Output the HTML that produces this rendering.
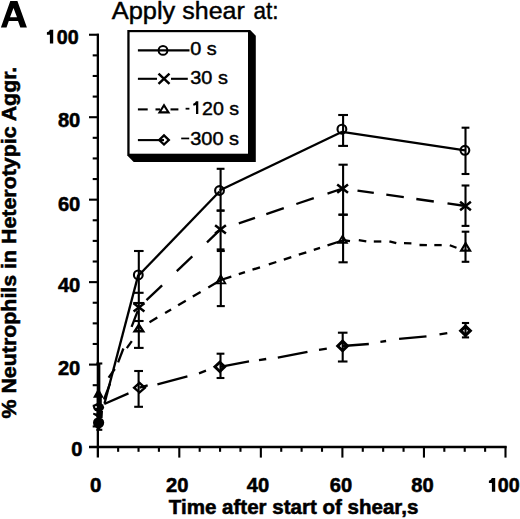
<!DOCTYPE html>
<html><head><meta charset="utf-8"><style>
html,body{margin:0;padding:0;background:#fff;}
body{width:520px;height:519px;overflow:hidden;font-family:"Liberation Sans",sans-serif;}
svg{display:block;}
</style></head><body>
<svg width="520" height="519" viewBox="0 0 520 519">
<g stroke="#000" stroke-width="2.3" fill="none">
<line x1="97.85" y1="33.7" x2="97.85" y2="457.6"/>
<line x1="89.0" y1="447.0" x2="506.6" y2="447.0"/>
</g><g stroke="#000" stroke-width="2.1" fill="none">
<line x1="92.7" y1="426.44" x2="98.8" y2="426.44"/>
<line x1="92.7" y1="405.82" x2="98.8" y2="405.82"/>
<line x1="92.7" y1="385.20" x2="98.8" y2="385.20"/>
<line x1="89.0" y1="364.59" x2="98.8" y2="364.59"/>
<line x1="92.7" y1="343.98" x2="98.8" y2="343.98"/>
<line x1="92.7" y1="323.36" x2="98.8" y2="323.36"/>
<line x1="92.7" y1="302.75" x2="98.8" y2="302.75"/>
<line x1="89.0" y1="282.13" x2="98.8" y2="282.13"/>
<line x1="92.7" y1="261.51" x2="98.8" y2="261.51"/>
<line x1="92.7" y1="240.90" x2="98.8" y2="240.90"/>
<line x1="92.7" y1="220.28" x2="98.8" y2="220.28"/>
<line x1="89.0" y1="199.67" x2="98.8" y2="199.67"/>
<line x1="92.7" y1="179.06" x2="98.8" y2="179.06"/>
<line x1="92.7" y1="158.44" x2="98.8" y2="158.44"/>
<line x1="92.7" y1="137.82" x2="98.8" y2="137.82"/>
<line x1="89.0" y1="117.21" x2="98.8" y2="117.21"/>
<line x1="92.7" y1="96.59" x2="98.8" y2="96.59"/>
<line x1="92.7" y1="75.98" x2="98.8" y2="75.98"/>
<line x1="92.7" y1="55.37" x2="98.8" y2="55.37"/>
<line x1="89.0" y1="34.75" x2="98.8" y2="34.75"/>
<line x1="118.14" y1="446.2" x2="118.14" y2="451.8"/>
<line x1="138.53" y1="446.2" x2="138.53" y2="451.8"/>
<line x1="158.91" y1="446.2" x2="158.91" y2="451.8"/>
<line x1="179.30" y1="446.2" x2="179.30" y2="457.6"/>
<line x1="199.69" y1="446.2" x2="199.69" y2="451.8"/>
<line x1="220.07" y1="446.2" x2="220.07" y2="451.8"/>
<line x1="240.46" y1="446.2" x2="240.46" y2="451.8"/>
<line x1="260.85" y1="446.2" x2="260.85" y2="457.6"/>
<line x1="281.24" y1="446.2" x2="281.24" y2="451.8"/>
<line x1="301.62" y1="446.2" x2="301.62" y2="451.8"/>
<line x1="322.01" y1="446.2" x2="322.01" y2="451.8"/>
<line x1="342.40" y1="446.2" x2="342.40" y2="457.6"/>
<line x1="362.79" y1="446.2" x2="362.79" y2="451.8"/>
<line x1="383.17" y1="446.2" x2="383.17" y2="451.8"/>
<line x1="403.56" y1="446.2" x2="403.56" y2="451.8"/>
<line x1="423.95" y1="446.2" x2="423.95" y2="457.6"/>
<line x1="444.34" y1="446.2" x2="444.34" y2="451.8"/>
<line x1="464.72" y1="446.2" x2="464.72" y2="451.8"/>
<line x1="485.11" y1="446.2" x2="485.11" y2="451.8"/>
<line x1="505.50" y1="446.2" x2="505.50" y2="457.6"/>
</g>
<line x1="104.5" y1="403.5" x2="138.3" y2="274.9" stroke="#000" stroke-width="2.3"/>
<line x1="138.3" y1="275.8" x2="219.5" y2="191.5" stroke="#000" stroke-width="2.3"/>
<line x1="219.5" y1="190.5" x2="342.2" y2="131.8" stroke="#000" stroke-width="2.3"/>
<line x1="342.2" y1="131.8" x2="465.0" y2="150.3" stroke="#000" stroke-width="2.3"/>
<line x1="104.0" y1="399.5" x2="110.0" y2="383.7" stroke="#000" stroke-width="2.3"/>
<line x1="118.1" y1="362.4" x2="123.4" y2="348.5" stroke="#000" stroke-width="2.3"/>
<line x1="131.6" y1="326.9" x2="137.8" y2="310.6" stroke="#000" stroke-width="2.3"/>
<line x1="146.5" y1="300.2" x2="162.1" y2="285.3" stroke="#000" stroke-width="2.3"/>
<line x1="176.8" y1="271.2" x2="192.3" y2="256.4" stroke="#000" stroke-width="2.3"/>
<line x1="207.0" y1="242.3" x2="220.5" y2="229.4" stroke="#000" stroke-width="2.3"/>
<line x1="238.8" y1="223.3" x2="255.0" y2="217.8" stroke="#000" stroke-width="2.3"/>
<line x1="266.3" y1="214.1" x2="283.8" y2="208.2" stroke="#000" stroke-width="2.3"/>
<line x1="296.3" y1="204.0" x2="313.8" y2="198.1" stroke="#000" stroke-width="2.3"/>
<line x1="327.5" y1="193.6" x2="342.6" y2="188.5" stroke="#000" stroke-width="2.3"/>
<line x1="357.5" y1="190.6" x2="373.8" y2="192.9" stroke="#000" stroke-width="2.3"/>
<line x1="386.3" y1="194.7" x2="403.8" y2="197.2" stroke="#000" stroke-width="2.3"/>
<line x1="416.3" y1="199.0" x2="433.8" y2="201.5" stroke="#000" stroke-width="2.3"/>
<line x1="447.5" y1="203.4" x2="465.5" y2="206.0" stroke="#000" stroke-width="2.3"/>
<line x1="108.6" y1="377.6" x2="114.8" y2="369.0" stroke="#000" stroke-width="2.3"/>
<line x1="126.8" y1="348.2" x2="131.8" y2="341.2" stroke="#000" stroke-width="2.3"/>
<line x1="149.5" y1="322.3" x2="157.3" y2="317.6" stroke="#000" stroke-width="2.3"/>
<line x1="165.1" y1="313.0" x2="171.1" y2="309.5" stroke="#000" stroke-width="2.3"/>
<line x1="178.1" y1="305.3" x2="185.8" y2="300.8" stroke="#000" stroke-width="2.3"/>
<line x1="192.8" y1="296.6" x2="200.6" y2="292.0" stroke="#000" stroke-width="2.3"/>
<line x1="208.3" y1="287.4" x2="220.8" y2="280.0" stroke="#000" stroke-width="2.3"/>
<line x1="220.8" y1="280.0" x2="231.3" y2="276.6" stroke="#000" stroke-width="2.3"/>
<line x1="238.8" y1="274.2" x2="245.0" y2="272.2" stroke="#000" stroke-width="2.3"/>
<line x1="252.5" y1="269.7" x2="260.0" y2="267.3" stroke="#000" stroke-width="2.3"/>
<line x1="268.8" y1="264.4" x2="276.3" y2="262.0" stroke="#000" stroke-width="2.3"/>
<line x1="283.8" y1="259.6" x2="291.3" y2="257.1" stroke="#000" stroke-width="2.3"/>
<line x1="298.8" y1="254.7" x2="306.3" y2="252.3" stroke="#000" stroke-width="2.3"/>
<line x1="313.8" y1="249.8" x2="320.0" y2="247.8" stroke="#000" stroke-width="2.3"/>
<line x1="327.5" y1="245.4" x2="342.6" y2="240.5" stroke="#000" stroke-width="2.3"/>
<line x1="342.6" y1="240.0" x2="350.0" y2="241.2" stroke="#000" stroke-width="2.3"/>
<line x1="358.8" y1="240.2" x2="366.3" y2="241.3" stroke="#000" stroke-width="2.3"/>
<line x1="373.8" y1="241.5" x2="381.3" y2="241.5" stroke="#000" stroke-width="2.3"/>
<line x1="389.4" y1="241.3" x2="396.3" y2="243.2" stroke="#000" stroke-width="2.3"/>
<line x1="404.0" y1="243.2" x2="411.4" y2="243.4" stroke="#000" stroke-width="2.3"/>
<line x1="419.5" y1="245.0" x2="426.9" y2="245.1" stroke="#000" stroke-width="2.3"/>
<line x1="434.3" y1="245.1" x2="441.7" y2="245.1" stroke="#000" stroke-width="2.3"/>
<line x1="449.8" y1="245.2" x2="456.5" y2="247.8" stroke="#000" stroke-width="2.3"/>
<line x1="104.3" y1="404.0" x2="128.5" y2="393.4" stroke="#000" stroke-width="2.3"/>
<line x1="139.5" y1="387.7" x2="147.7" y2="385.4" stroke="#000" stroke-width="2.3"/>
<line x1="157.4" y1="384.3" x2="187.4" y2="376.4" stroke="#000" stroke-width="2.3"/>
<line x1="199.0" y1="373.3" x2="206.0" y2="370.7" stroke="#000" stroke-width="2.3"/>
<line x1="220.1" y1="366.8" x2="249.0" y2="361.3" stroke="#000" stroke-width="2.3"/>
<line x1="259.0" y1="360.2" x2="266.2" y2="359.0" stroke="#000" stroke-width="2.3"/>
<line x1="277.8" y1="357.6" x2="307.5" y2="351.8" stroke="#000" stroke-width="2.3"/>
<line x1="319.0" y1="349.8" x2="326.8" y2="348.6" stroke="#000" stroke-width="2.3"/>
<line x1="342.7" y1="346.0" x2="368.8" y2="344.0" stroke="#000" stroke-width="2.3"/>
<line x1="380.4" y1="341.9" x2="386.1" y2="341.0" stroke="#000" stroke-width="2.3"/>
<line x1="399.1" y1="338.8" x2="426.5" y2="336.3" stroke="#000" stroke-width="2.3"/>
<line x1="439.5" y1="334.3" x2="447.3" y2="333.1" stroke="#000" stroke-width="2.3"/>
<g stroke="#000" stroke-width="2.1" fill="none">
<line x1="138.8" y1="251" x2="138.8" y2="292.8"/>
<line x1="134.0" y1="251" x2="143.6" y2="251"/>
<line x1="134.0" y1="292.8" x2="143.6" y2="292.8"/>
<line x1="220.6" y1="168.8" x2="220.6" y2="210.6"/>
<line x1="216.7" y1="168.8" x2="224.5" y2="168.8"/>
<line x1="216.7" y1="210.6" x2="224.5" y2="210.6"/>
<line x1="343.1" y1="115" x2="343.1" y2="145.9"/>
<line x1="338.2" y1="115" x2="348.0" y2="115"/>
<line x1="338.2" y1="145.9" x2="348.0" y2="145.9"/>
<line x1="465.5" y1="127.7" x2="465.5" y2="174"/>
<line x1="461.6" y1="127.7" x2="469.4" y2="127.7"/>
<line x1="461.6" y1="174" x2="469.4" y2="174"/>
<line x1="220.6" y1="210.6" x2="220.6" y2="249.4"/>
<line x1="216.7" y1="210.6" x2="224.5" y2="210.6"/>
<line x1="216.7" y1="249.4" x2="224.5" y2="249.4"/>
<line x1="343.1" y1="164.7" x2="343.1" y2="214.7"/>
<line x1="338.5" y1="164.7" x2="347.7" y2="164.7"/>
<line x1="338.5" y1="214.7" x2="347.7" y2="214.7"/>
<line x1="465.5" y1="185.5" x2="465.5" y2="225.9"/>
<line x1="461.6" y1="185.5" x2="469.4" y2="185.5"/>
<line x1="461.6" y1="225.9" x2="469.4" y2="225.9"/>
<line x1="138.8" y1="321.0" x2="138.8" y2="347.9"/>
<line x1="134.0" y1="321.0" x2="143.6" y2="321.0"/>
<line x1="134.0" y1="347.9" x2="143.6" y2="347.9"/>
<line x1="220.8" y1="251" x2="220.8" y2="306.1"/>
<line x1="216.8" y1="251" x2="224.8" y2="251"/>
<line x1="216.8" y1="306.1" x2="224.8" y2="306.1"/>
<line x1="343.1" y1="214.7" x2="343.1" y2="262.3"/>
<line x1="338.5" y1="214.7" x2="347.7" y2="214.7"/>
<line x1="338.5" y1="262.3" x2="347.7" y2="262.3"/>
<line x1="465.5" y1="231.7" x2="465.5" y2="261.8"/>
<line x1="461.7" y1="231.7" x2="469.3" y2="231.7"/>
<line x1="461.7" y1="261.8" x2="469.3" y2="261.8"/>
<line x1="138.6" y1="371" x2="138.6" y2="406.8"/>
<line x1="134.2" y1="371" x2="143.0" y2="371"/>
<line x1="134.2" y1="406.8" x2="143.0" y2="406.8"/>
<line x1="220.5" y1="353.7" x2="220.5" y2="378"/>
<line x1="216.6" y1="353.7" x2="224.4" y2="353.7"/>
<line x1="216.6" y1="378" x2="224.4" y2="378"/>
<line x1="342.7" y1="332.7" x2="342.7" y2="361.5"/>
<line x1="337.9" y1="332.7" x2="347.5" y2="332.7"/>
<line x1="337.9" y1="361.5" x2="347.5" y2="361.5"/>
<line x1="465.5" y1="323" x2="465.5" y2="337.4"/>
<line x1="461.9" y1="323" x2="469.1" y2="323"/>
<line x1="461.9" y1="337.4" x2="469.1" y2="337.4"/>
<line x1="99.3" y1="363.5" x2="99.3" y2="429.8"/>
<line x1="96.3" y1="363.5" x2="102.3" y2="363.5"/>
<line x1="96.3" y1="429.8" x2="102.3" y2="429.8"/>
<line x1="133.2" y1="303" x2="144.4" y2="303"/>
<line x1="138.8" y1="292.8" x2="138.8" y2="321"/>
</g>
<path d="M139.50,381.30L146.70,387.70L139.50,394.10L132.30,387.70ZM135.91,387.70L139.50,390.89L143.09,387.70L139.50,384.51Z" fill="#000" fill-rule="evenodd"/>
<path d="M219.80,360.15L226.80,366.85L219.80,373.55L212.80,366.85ZM216.99,366.85L219.80,369.54L222.61,366.85L219.80,364.16Z" fill="#000" fill-rule="evenodd"/>
<path d="M342.60,339.10L349.60,345.90L342.60,352.70L335.60,345.90ZM339.76,345.90L342.60,348.66L345.44,345.90L342.60,343.14Z" fill="#000" fill-rule="evenodd"/>
<path d="M465.50,324.10L472.50,330.80L465.50,337.50L458.50,330.80ZM462.98,330.80L465.50,333.21L468.02,330.80L465.50,328.39Z" fill="#000" fill-rule="evenodd"/>
<path d="M138.90,322.50L145.40,332.40L132.40,332.40ZM137.03,329.90L140.77,329.90L138.90,327.06Z" fill="#000" fill-rule="evenodd"/>
<path d="M220.80,273.50L226.80,284.30L214.80,284.30ZM217.86,282.50L223.74,282.50L220.80,277.21Z" fill="#000" fill-rule="evenodd"/>
<path d="M342.60,234.10L348.50,243.80L336.70,243.80ZM339.81,242.05L345.39,242.05L342.60,237.47Z" fill="#000" fill-rule="evenodd"/>
<path d="M465.60,240.90L472.00,251.80L459.20,251.80ZM463.04,249.60L468.16,249.60L465.60,245.25Z" fill="#000" fill-rule="evenodd"/>
<path d="M133.6,303.2L144.4,311.6M133.6,311.6L144.4,303.2" stroke="#000" stroke-width="2.5" fill="none"/>
<path d="M215.1,225.2L225.9,233.6M215.1,233.6L225.9,225.2" stroke="#000" stroke-width="2.5" fill="none"/>
<path d="M337.2,184.4L348.0,192.8M337.2,192.8L348.0,184.4" stroke="#000" stroke-width="2.5" fill="none"/>
<path d="M460.1,201.8L470.9,210.2M460.1,210.2L470.9,201.8" stroke="#000" stroke-width="2.5" fill="none"/>
<circle cx="138.3" cy="274.9" r="4.4" fill="none" stroke="#000" stroke-width="2.1"/>
<circle cx="219.5" cy="190.5" r="4.4" fill="none" stroke="#000" stroke-width="2.1"/>
<circle cx="341.9" cy="129.2" r="4.4" fill="none" stroke="#000" stroke-width="2.1"/>
<circle cx="464.9" cy="150.3" r="4.4" fill="none" stroke="#000" stroke-width="2.1"/>
<path d="M98.40,387.90L103.80,397.80L93.00,397.80ZM97.38,395.20L99.42,395.20L98.40,393.33Z" fill="#000" fill-rule="evenodd"/>
<rect x="96.8" y="397" width="5.0" height="7" fill="#000"/>
<ellipse cx="98.6" cy="407.3" rx="5.5" ry="4.4" fill="#000"/>
<circle cx="96.0" cy="407.0" r="0.9" fill="#fff"/>
<path d="M96.8,411 L103.0,411 L102.6,418 L97.0,418 L96.0,416.2 L93.0,414.6 L93.4,412.8 L96.4,413.6 Z" fill="#000"/>
<ellipse cx="98.6" cy="422.8" rx="5.6" ry="5.6" fill="#000"/>
<path d="M127.3,30 L250.2,30 L255.8,35.8 L255.8,161.9 L133.7,161.9 L127.3,155.4 Z" fill="#000"/>
<rect x="129.6" y="32.2" width="118.4" height="121.5" fill="#fff"/>
<line x1="137.9" y1="50.4" x2="189.5" y2="50.4" stroke="#000" stroke-width="2.1"/>
<line x1="137.9" y1="78.8" x2="157.0" y2="78.8" stroke="#000" stroke-width="2.1"/>
<line x1="171.0" y1="78.8" x2="187.8" y2="78.8" stroke="#000" stroke-width="2.1"/>
<line x1="137.9" y1="109.4" x2="147.7" y2="109.4" stroke="#000" stroke-width="2.1"/>
<line x1="155.5" y1="109.4" x2="160.0" y2="109.4" stroke="#000" stroke-width="2.1"/>
<line x1="170.5" y1="109.4" x2="178.4" y2="109.4" stroke="#000" stroke-width="2.1"/>
<line x1="137.9" y1="140.1" x2="164.0" y2="140.1" stroke="#000" stroke-width="2.1"/>
<circle cx="163" cy="50.4" r="4.4" fill="none" stroke="#000" stroke-width="2.0"/>
<path d="M158.5,73.7L169.5,83.9M158.5,83.9L169.5,73.7" stroke="#000" stroke-width="2.5" fill="none"/>
<path d="M164.00,103.30L170.40,113.40L157.60,113.40ZM161.42,111.30L166.58,111.30L164.00,107.22Z" fill="#000" fill-rule="evenodd"/>
<path d="M164.00,133.70L170.50,139.90L164.00,146.10L157.50,139.90ZM160.83,139.90L164.00,142.92L167.17,139.90L164.00,136.88Z" fill="#000" fill-rule="evenodd"/>
<g font-family="&quot;Liberation Sans&quot;, sans-serif" fill="#000"><path d="M0.9,27.6 L10.3,0.9 L17.4,0.9 L26.9,27.6 L20.3,27.6 L18.0,21.1 L8.8,21.1 L6.5,27.6 Z M13.5,7.9 L17.0,17.3 L10.0,17.3 Z" fill="#000" fill-rule="evenodd"/>
<text x="111.8" y="18.7" font-size="24.6" font-weight="normal" text-anchor="start" textLength="63.5" lengthAdjust="spacingAndGlyphs"  stroke="#000" stroke-width="0.45">Apply</text>
<text x="182.3" y="18.7" font-size="24.6" font-weight="normal" text-anchor="start" textLength="62.5" lengthAdjust="spacingAndGlyphs"  stroke="#000" stroke-width="0.45">shear</text>
<text x="253.6" y="18.7" font-size="24.6" font-weight="normal" text-anchor="start" textLength="25.0" lengthAdjust="spacingAndGlyphs"  stroke="#000" stroke-width="0.45">at:</text>
<text x="190.3" y="55.4" font-size="18.6" font-weight="normal" text-anchor="start" textLength="26.5" lengthAdjust="spacingAndGlyphs"  stroke="#000" stroke-width="0.45">0 s</text>
<text x="190.3" y="84" font-size="18.6" font-weight="normal" text-anchor="start" textLength="37.6" lengthAdjust="spacingAndGlyphs"  stroke="#000" stroke-width="0.45">30 s</text>
<text x="202.0" y="114.6" font-size="18.6" font-weight="normal" text-anchor="start" textLength="37.0" lengthAdjust="spacingAndGlyphs"  stroke="#000" stroke-width="0.45">20 s</text>
<rect x="185.6" y="107.8" width="3.8" height="1.8" fill="#000"/>
<path d="M196.0,101.3 L198.3,101.3 L198.3,113.9 L196.0,113.9 L196.0,104.9 Q194.9,105.5 193.2,105.6 L193.2,103.7 Q195.4,103.3 196.0,101.3 Z" fill="#000"/>
<text x="190.2" y="145.2" font-size="18.6" font-weight="normal" text-anchor="start" textLength="48.9" lengthAdjust="spacingAndGlyphs"  stroke="#000" stroke-width="0.45">300 s</text>
<rect x="181.2" y="137.6" width="8.0" height="1.7" fill="#000"/>
<path d="M49.90,29.70 L53.20,29.70 L53.20,43.60 L49.90,43.60 L49.90,34.70 L46.90,34.70 L46.90,32.30 Q49.30,32.10 49.90,29.70 Z" fill="#000"/>
<path d="M491.90,478.10 L495.20,478.10 L495.20,491.80 L491.90,491.80 L491.90,483.10 L488.90,483.10 L488.90,480.70 Q491.30,480.50 491.90,478.10 Z" fill="#000"/>
<text x="56.8" y="43.6" font-size="20" font-weight="bold" text-anchor="start" textLength="21.85" lengthAdjust="spacingAndGlyphs"  stroke="#000" stroke-width="0.55">00</text>
<text x="497.8" y="492.3" font-size="20" font-weight="bold" text-anchor="start" textLength="21.85" lengthAdjust="spacingAndGlyphs"  stroke="#000" stroke-width="0.55">00</text>
<text x="57.9" y="127.4" font-size="20" font-weight="bold" text-anchor="start" textLength="22.4" lengthAdjust="spacingAndGlyphs"  stroke="#000" stroke-width="0.55">80</text>
<text x="57.9" y="210.6" font-size="20" font-weight="bold" text-anchor="start" textLength="22.4" lengthAdjust="spacingAndGlyphs"  stroke="#000" stroke-width="0.55">60</text>
<text x="57.9" y="292.4" font-size="20" font-weight="bold" text-anchor="start" textLength="22.4" lengthAdjust="spacingAndGlyphs"  stroke="#000" stroke-width="0.55">40</text>
<text x="57.9" y="375.3" font-size="20" font-weight="bold" text-anchor="start" textLength="22.4" lengthAdjust="spacingAndGlyphs"  stroke="#000" stroke-width="0.55">20</text>
<text x="71.3" y="455.7" font-size="20" font-weight="bold" text-anchor="start" textLength="11.2" lengthAdjust="spacingAndGlyphs"  stroke="#000" stroke-width="0.55">0</text>
<text x="90.1" y="492.3" font-size="20" font-weight="bold" text-anchor="start" textLength="11.4" lengthAdjust="spacingAndGlyphs"  stroke="#000" stroke-width="0.55">0</text>
<text x="166.1" y="492.3" font-size="20" font-weight="bold" text-anchor="start" textLength="22.4" lengthAdjust="spacingAndGlyphs"  stroke="#000" stroke-width="0.55">20</text>
<text x="246.7" y="492.3" font-size="20" font-weight="bold" text-anchor="start" textLength="22.4" lengthAdjust="spacingAndGlyphs"  stroke="#000" stroke-width="0.55">40</text>
<text x="329.8" y="492.3" font-size="20" font-weight="bold" text-anchor="start" textLength="22.4" lengthAdjust="spacingAndGlyphs"  stroke="#000" stroke-width="0.55">60</text>
<text x="411.3" y="492.3" font-size="20" font-weight="bold" text-anchor="start" textLength="22.4" lengthAdjust="spacingAndGlyphs"  stroke="#000" stroke-width="0.55">80</text>
<text x="168.8" y="514.3" font-size="20.3" font-weight="bold" text-anchor="start" textLength="249.5" lengthAdjust="spacingAndGlyphs"  stroke="#000" stroke-width="0.55">Time after start of shear,s</text>
<text transform="translate(16.3,418.5) rotate(-90)" font-size="20.6" font-weight="bold" stroke="#000" stroke-width="0.55" textLength="351.8" lengthAdjust="spacingAndGlyphs">% Neutrophils in Heterotypic Aggr.</text></g>
</svg>
</body></html>
